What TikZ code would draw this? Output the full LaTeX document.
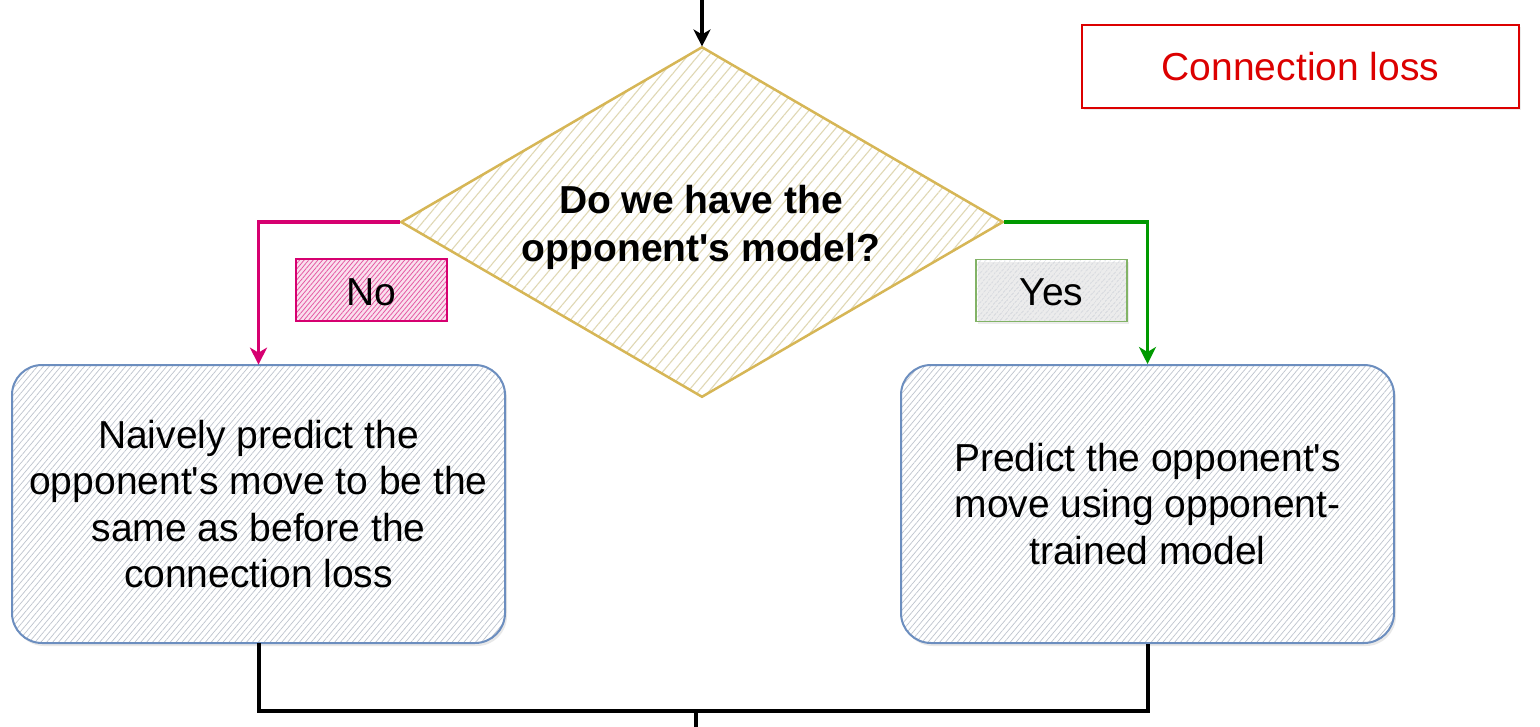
\documentclass[tikz,border=0pt]{standalone}
\usepackage{fontspec}
\setmainfont{Liberation Sans}
\usetikzlibrary{shapes.geometric,arrows.meta,patterns.meta,shadows}
\definecolor{decstroke}{RGB}{214,182,86}
\definecolor{dechatch}{RGB}{224,216,180}
\definecolor{boxstroke}{RGB}{108,142,191}
\definecolor{boxhatch}{RGB}{190,196,206}
\definecolor{nocol}{RGB}{214,0,112}
\definecolor{yescol}{RGB}{0,153,0}
\definecolor{yesstroke}{RGB}{130,179,102}
\definecolor{losscol}{RGB}{220,0,0}
\tikzset{
  bodyfont/.style={font=\fontsize{39}{46.5}\selectfont},
  decision/.style={diamond, draw=decstroke, line width=2.5pt, inner sep=0pt,
    minimum width=602pt, minimum height=350pt, preaction={fill=white},
    pattern={Lines[angle=50,distance=8pt,line width=1.1pt]}, pattern color=dechatch},
  actionbox/.style={draw=boxstroke, line width=2pt, rounded corners=30pt, inner sep=0pt,
    minimum width=493pt, minimum height=278pt, align=center, bodyfont,
    drop shadow={opacity=0.18, shadow xshift=2pt, shadow yshift=-3pt},
    preaction={fill=white},
    pattern={Lines[angle=50,distance=4.5pt,line width=0.7pt]}, pattern color=boxhatch},
  labelbox/.style={line width=1.5pt, inner sep=0pt, minimum width=151pt, minimum height=62pt, bodyfont},
  flow/.style={line width=4pt, -{Stealth[length=17pt,width=17pt,inset=5pt]}},
  plainline/.style={line width=4pt},
}
\newcommand{\apos}{\textquotesingle}
\begin{document}
\begin{tikzpicture}[x=1pt,y=-1pt]
\useasboundingbox (0,0) rectangle (1540,726);

% decision
\node[decision] (dec) at (702,222) {};
\node[font=\bfseries\fontsize{39}{48}\selectfont, align=center] (dectext) at (701,227) {Do we have the\\opponent\apos s model?};

% action boxes
\node[actionbox] (left) at (258.5,504) {Naively predict the\\opponent\apos s move to be the\\same as before the\\connection loss};
\node[actionbox] (right) at (1147.5,504) {Predict the opponent\apos s\\move using opponent-\\trained model};

% labels
\node[labelbox, draw=nocol, preaction={fill=nocol!12},
  pattern={Lines[angle=50,distance=3.5pt,line width=0.8pt]}, pattern color=nocol!65] (nolab) at (371.5,290) {};
\node[bodyfont] (notext) at (371.5,292) {No};
\node[labelbox, draw=yesstroke, preaction={fill=white},
  drop shadow={opacity=0.15, shadow xshift=2pt, shadow yshift=-2pt},
  pattern={Lines[angle=50,distance=4pt,line width=0.7pt]}, pattern color=boxhatch] (yeslab) at (1051.5,290.5) {};
\node[bodyfont] (yestext) at (1051.5,292) {Yes};

% connection loss box
\node[draw=losscol, line width=1.5pt, minimum width=437pt, minimum height=83pt, inner sep=0pt,
  fill=white, text=losscol, bodyfont,
  drop shadow={opacity=0.15, shadow xshift=2pt, shadow yshift=-2pt}] (loss) at (1300.5,66.5) {Connection loss};

% connectors
\coordinate (topin) at (702,0);
\coordinate (join) at (696,711);
\coordinate (out) at (696,730);
\draw[flow] (topin) -- (dec.north);
\draw[flow, nocol, line width=3.5pt] (dec.west) -| (left.north);
\draw[flow, yescol, line width=3.5pt] (dec.east) -| (right.north);
\draw[plainline] (left.south) |- (join) -| (right.south);
\draw[plainline] (join) -- (out);
\end{tikzpicture}
\end{document}
